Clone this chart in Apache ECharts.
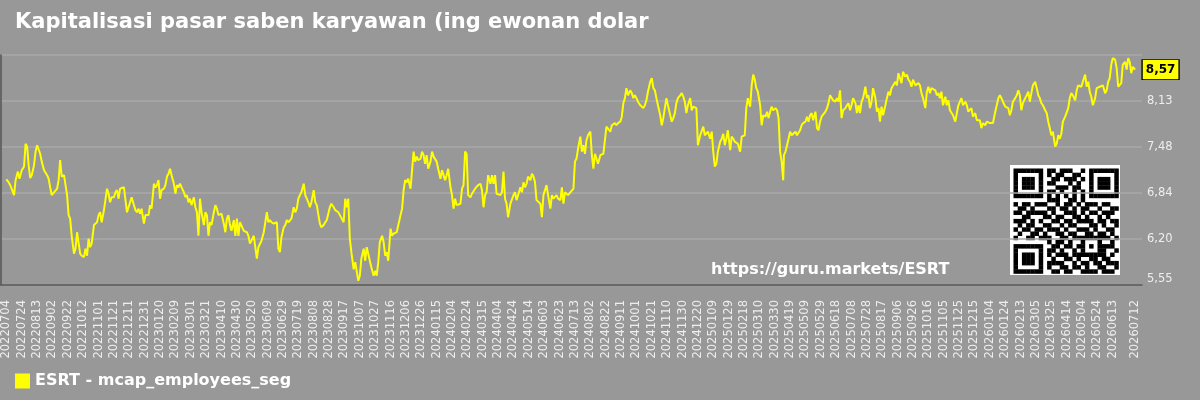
<!DOCTYPE html>
<html>
<head>
<meta charset="utf-8">
<title>ESRT - mcap_employees_seg</title>
<script src="https://cdn.jsdelivr.net/npm/echarts@6/dist/echarts.min.js"></script>
<style>
    html, body { margin: 0; padding: 0; background: #989898; }
    #main { width: 1200px; height: 400px; }
</style>
</head>
<body>
<div id="main"></div>
<script>
    // day offsets counted from 2022-07-04
    var startDate = Date.UTC(2022, 6, 4);
    var lastDay = 1469;
    var labelDays = [];
    for (var d = 0; d <= 1440; d += 20) labelDays.push(d);
    labelDays.push(lastDay);

    var yTickLabels = ['5,55', '6,20', '6,84', '7,48', '8,13'];
    var lastValue = 8.57;

    // [day, value]
    var seg2022 = [[0,7.03],[3,6.99],[5,6.95],[7,6.97],[10,6.81],[12,7.02],[15,7.14],[17,7.04],[20,7.16],[23,7.21],[25,7.53],[27,7.49],[29,7.23],[31,7.05],[33,7.09],[36,7.23],[38,7.42],[40,7.51],[42,7.49],[44,7.39],[46,7.28],[49,7.16],[51,7.18],[53,7.09],[55,7.04],[57,6.92],[59,6.81],[62,6.85],[64,6.85],[66,6.90],[68,7.02],[70,7.30],[72,7.07],[75,7.09],[77,7.07],[79,6.81],[81,6.53],[83,6.48],[85,6.24],[88,5.99],[90,6.06],[92,6.29],[94,6.31],[96,5.99],[98,5.96],[101,5.94],[103,6.06],[105,5.96],[107,6.20],[109,6.08],[111,6.13],[114,6.39],[116,6.41],[118,6.43],[120,6.53],[122,6.57],[124,6.43],[127,6.60],[129,6.62],[131,6.90],[133,6.83],[135,6.71],[137,6.78],[140,6.78],[142,6.85],[144,6.88],[146,6.76],[148,6.90],[150,6.90],[153,6.92],[155,6.90],[157,6.57],[159,6.64],[161,6.71],[163,6.78],[166,6.67],[168,6.60],[170,6.57],[172,6.62],[174,6.55],[176,6.62],[179,6.41],[181,6.53],[183,6.53],[185,6.53],[187,6.67],[189,6.62],[192,6.97],[194,6.92],[196,6.95],[198,7.02],[200,6.76],[202,6.88],[205,6.90],[207,6.95],[209,7.07],[211,7.11],[213,7.18],[215,7.09],[218,6.97],[220,6.83],[222,6.95],[224,6.92],[226,6.97],[228,6.92],[231,6.85],[233,6.78],[235,6.81],[237,6.71],[239,6.76],[241,6.67],[244,6.78],[246,6.64],[248,6.57],[250,6.24],[252,6.76],[254,6.57],[257,6.39],[259,6.57],[261,6.53],[263,6.24],[265,6.43],[267,6.39],[270,6.57],[272,6.67],[274,6.62],[276,6.53],[278,6.53],[280,6.55],[283,6.41],[285,6.29],[287,6.48],[289,6.53],[291,6.39],[293,6.31],[296,6.46],[298,6.24],[300,6.48],[302,6.24],[304,6.43],[306,6.41],[309,6.31],[311,6.29],[313,6.29],[315,6.24],[317,6.13],[319,6.15],[322,6.24],[324,6.22],[326,5.92],[328,6.08],[330,6.06],[332,6.17],[335,6.29],[337,6.29],[339,6.57],[341,6.43],[343,6.46],[345,6.43],[348,6.41],[350,6.43],[352,6.43],[354,6.06],[356,6.01],[358,6.22],[361,6.36],[363,6.39],[365,6.46],[367,6.43],[369,6.43],[371,6.48],[374,6.64],[376,6.57],[378,6.62],[380,6.76],[382,6.81],[384,6.85],[387,6.97],[389,6.81],[391,6.81],[393,6.71],[395,6.64],[397,6.71],[400,6.88],[402,6.71],[404,6.67],[406,6.67],[408,6.41],[410,6.36],[413,6.39],[415,6.43],[417,6.46],[419,6.46],[421,6.64],[423,6.69],[426,6.64],[428,6.60],[430,6.60],[432,6.57],[434,6.53],[436,6.55],[439,6.43],[441,6.76],[443,6.64],[445,6.76],[447,6.20],[449,6.01],[452,5.77],[454,5.87],[456,5.85],[458,5.61],[460,5.68],[462,5.92],[465,6.06],[467,5.89],[469,6.08],[471,6.10],[473,5.89],[475,5.80],[478,5.68],[480,5.75],[482,5.68],[484,5.87],[486,6.15]];
    var seg2024 = [[489,6.24],[491,6.15],[493,5.96],[495,6.01],[497,5.89],[500,6.34],[502,6.24],[504,6.27],[506,6.29],[508,6.29],[510,6.31],[513,6.53],[515,6.62],[517,6.88],[519,7.02],[521,6.99],[523,7.04],[526,6.90],[528,6.92],[530,7.42],[532,7.28],[534,7.35],[536,7.30],[539,7.32],[541,7.42],[543,7.37],[545,7.25],[547,7.37],[549,7.18],[552,7.28],[554,7.42],[556,7.35],[558,7.35],[560,7.28],[562,7.18],[565,7.04],[567,7.16],[569,7.14],[571,7.02],[573,7.09],[575,7.18],[578,6.92],[580,6.81],[582,6.62],[584,6.76],[586,6.67],[588,6.69],[591,6.69],[593,6.90],[595,6.95],[597,7.42],[599,7.39],[601,6.81],[604,6.78],[606,6.83],[608,6.85],[610,6.90],[612,6.90],[614,6.95],[617,6.97],[619,6.88],[621,6.64],[623,6.81],[625,6.85],[627,7.09],[630,6.97],[632,7.09],[634,6.97],[636,7.09],[638,6.83],[640,6.85],[643,6.81],[645,6.85],[647,7.14],[649,6.76],[651,6.69],[653,6.50],[656,6.69],[658,6.71],[660,6.81],[662,6.85],[664,6.74],[666,6.81],[669,6.92],[671,6.85],[673,6.99],[675,6.92],[677,6.97],[679,7.07],[682,7.02],[684,7.11],[686,7.07],[688,6.99],[690,6.74],[692,6.76],[695,6.69],[697,6.50],[699,6.81],[701,6.88],[703,6.95],[705,6.81],[708,6.62],[710,6.81],[712,6.76],[714,6.78],[716,6.81],[718,6.76],[721,6.74],[723,6.92],[725,6.69],[727,6.85],[729,6.85],[731,6.81],[734,6.85],[736,6.83],[738,6.90],[740,7.28],[742,7.32],[744,7.46],[747,7.63],[749,7.42],[751,7.51],[753,7.39],[755,7.58],[757,7.65],[760,7.70],[762,7.37],[764,7.18],[766,7.39],[768,7.37],[770,7.25],[773,7.37],[775,7.39],[777,7.39],[779,7.58],[781,7.77],[783,7.79],[786,7.70],[788,7.79],[790,7.77],[792,7.82],[794,7.79],[796,7.82],[799,7.84],[801,7.91],[803,8.10],[805,8.17],[807,8.31],[809,8.21],[812,8.28],[814,8.24],[816,8.17],[818,8.21],[820,8.17],[822,8.12],[825,8.07],[827,8.05],[829,8.03],[831,8.07],[833,8.14],[835,8.26],[838,8.40],[840,8.45],[842,8.31],[844,8.28],[846,8.17],[848,8.07],[851,7.93],[853,7.79],[855,7.89],[857,8.03],[859,8.17],[861,8.07],[864,7.93],[866,7.84],[868,7.89],[870,7.96],[872,8.10],[874,8.17],[877,8.21],[879,8.24],[881,8.19],[883,8.12],[885,7.96],[887,8.07],[890,8.17],[892,8.00],[894,8.05],[896,8.07],[898,8.03],[900,7.51],[903,7.65],[905,7.67],[907,7.77],[909,7.65],[911,7.67],[913,7.70],[916,7.60],[918,7.70],[920,7.42],[922,7.21],[924,7.25],[926,7.42],[929,7.56],[931,7.60],[933,7.67],[935,7.51],[937,7.60],[939,7.72],[942,7.44],[944,7.63],[946,7.60],[948,7.56],[950,7.58],[952,7.53],[955,7.42],[957,7.63],[959,7.63],[961,7.65],[963,8.03],[965,8.17],[968,8.05],[970,8.35],[972,8.50],[974,8.43],[976,8.31],[978,8.26],[981,8.07]];
    var seg2025 = [[983,7.79],[985,7.93],[988,7.91],[990,7.98],[992,7.89],[994,7.98],[996,8.05],[998,8.00],[1001,8.03],[1003,8.00],[1005,7.89],[1007,7.42],[1009,7.28],[1011,7.02],[1012,7.37],[1014,7.42],[1016,7.51],[1018,7.60],[1020,7.70],[1022,7.65],[1024,7.67],[1027,7.70],[1029,7.65],[1031,7.67],[1033,7.72],[1035,7.79],[1037,7.82],[1040,7.84],[1042,7.91],[1044,7.84],[1046,7.93],[1048,7.96],[1050,7.86],[1053,7.98],[1055,7.75],[1057,7.72],[1059,7.84],[1061,7.91],[1063,7.93],[1066,7.98],[1068,8.03],[1070,8.10],[1072,8.21],[1074,8.19],[1076,8.14],[1079,8.12],[1081,8.17],[1083,8.12],[1085,8.28],[1087,7.89],[1089,8.00],[1092,8.03],[1094,8.07],[1096,8.10],[1098,8.00],[1100,8.07],[1102,8.17],[1105,8.10],[1107,7.96],[1109,8.07],[1111,7.96],[1113,8.12],[1115,8.17],[1118,8.33],[1120,8.17],[1122,8.21],[1124,8.03],[1126,8.12],[1128,8.31],[1131,8.17],[1133,7.98],[1135,8.03],[1137,7.84],[1139,8.05],[1141,7.93],[1144,8.07],[1146,8.17],[1148,8.26],[1150,8.21],[1152,8.31],[1154,8.33],[1157,8.40],[1159,8.35],[1161,8.52],[1163,8.45],[1165,8.38],[1167,8.54],[1170,8.47],[1172,8.50],[1174,8.43],[1176,8.40],[1178,8.33],[1180,8.43],[1183,8.35],[1185,8.33],[1187,8.38],[1189,8.35],[1191,8.24],[1193,8.17],[1196,8.03],[1198,8.26],[1200,8.33],[1202,8.24],[1204,8.31],[1206,8.31],[1209,8.28],[1211,8.21],[1213,8.24],[1215,8.17],[1217,8.26],[1219,8.07],[1222,8.19],[1224,8.07],[1226,8.14],[1228,8.00],[1230,7.98],[1232,7.93],[1235,7.84],[1237,7.96],[1239,8.07],[1241,8.12],[1243,8.17],[1245,8.07],[1248,8.12],[1250,8.07],[1252,7.98],[1254,7.96],[1256,8.03],[1258,7.91],[1261,7.96],[1263,7.86],[1265,7.84],[1267,7.86],[1269,7.75],[1271,7.82],[1274,7.79],[1276,7.84],[1278,7.86],[1280,7.82],[1282,7.84],[1284,7.82],[1287,7.98],[1289,8.07],[1291,8.17],[1293,8.21],[1295,8.17],[1297,8.12],[1300,8.05],[1302,8.07],[1304,8.03],[1306,7.93],[1308,8.00],[1310,8.12],[1313,8.17],[1315,8.21],[1317,8.28],[1319,8.21],[1321,8.00],[1323,8.10],[1326,8.17],[1328,8.21],[1330,8.26],[1332,8.12],[1334,8.24],[1336,8.35],[1339,8.40],[1341,8.31],[1343,8.21],[1345,8.17],[1347,8.10],[1349,8.07],[1352,8.00],[1354,7.96],[1356,7.84],[1358,7.75],[1360,7.65],[1362,7.70],[1365,7.49],[1367,7.53],[1369,7.65],[1371,7.60],[1373,7.67],[1375,7.84],[1378,7.91],[1380,7.91],[1382,8.03],[1384,8.17],[1386,8.24],[1388,8.21],[1391,8.14],[1393,8.28],[1395,8.35],[1397,8.33],[1399,8.33],[1401,8.40],[1404,8.50],[1406,8.33],[1408,8.40],[1410,8.26],[1412,8.19],[1414,8.07],[1417,8.17],[1419,8.31],[1421,8.31],[1423,8.33],[1425,8.31],[1427,8.35],[1430,8.24],[1432,8.28],[1434,8.40],[1436,8.45],[1438,8.64],[1440,8.73],[1443,8.71],[1445,8.59],[1447,8.33],[1449,8.35],[1451,8.38],[1453,8.64],[1456,8.68],[1458,8.57],[1460,8.73],[1462,8.68],[1464,8.52],[1466,8.61],[1469,8.57]];

    var mcapPoints = seg2022.concat(seg2024, seg2025);

    function dayLabel(v) {
        var t = new Date(startDate + Math.round(v) * 86400000);
        var m = t.getUTCMonth() + 1, dd = t.getUTCDate();
        return '' + t.getUTCFullYear() + (m < 10 ? '0' : '') + m + (dd < 10 ? '0' : '') + dd;
    }

    // QR card (decoration only)
    var qrRows = [
        '0000000011011100100000000',
        '0000000010110011000000000',
        '0000000001101110100000000',
        '0000000011000101000000000',
        '0000000000111011000000000',
        '0000000011010010100000000',
        '0000000010101010100000000',
        '0000000011100110100000000',
        '1011011100101101011101100',
        '0110100011011010110010011',
        '1101111101001110101101110',
        '0011000110110011010010100',
        '1110101001101101111011011',
        '0101100110010110001101001',
        '1011011011101001110100110',
        '0100110100110110011011010',
        '1001101110011011100011101',
        '0000000010110100100010010',
        '0000000001101101101011110',
        '0000000011010010100011001',
        '0000000010111011111111010',
        '0000000001001101001101100',
        '0000000011110010110110111',
        '0000000010011011010011001',
        '0000000001101100111101110'
    ];
    var qrCell = 4.2;
    function qrDark(r, c) {
        var f = [[0, 0], [0, 18], [18, 0]];
        for (var i = 0; i < 3; i++) {
            var rr = r - f[i][0], cc = c - f[i][1];
            if (rr >= -1 && rr <= 7 && cc >= -1 && cc <= 7) {
                if (rr < 0 || rr > 6 || cc < 0 || cc > 6) return false;
                var edge = rr === 0 || rr === 6 || cc === 0 || cc === 6;
                var core = rr >= 2 && rr <= 4 && cc >= 2 && cc <= 4;
                return edge || core;
            }
        }
        if (r >= 16 && r <= 20 && c >= 16 && c <= 20) {
            return r === 16 || r === 20 || c === 16 || c === 20 || (r === 18 && c === 18);
        }
        return qrRows[r].charAt(c) === '1';
    }
    var qrChildren = [{type: 'rect', shape: {x: 0, y: 0, width: 110, height: 110}, style: {fill: '#fff'}}];
    for (var r = 0; r < 25; r++) {
        for (var c = 0; c < 25; c++) {
            if (qrDark(r, c)) {
                qrChildren.push({type: 'rect', shape: {x: 3.5 + c * qrCell, y: 3.5 + r * qrCell, width: qrCell + 0.3, height: qrCell + 0.3}, style: {fill: '#000'}});
            }
        }
    }

    var myChart = echarts.init(document.getElementById('main'));
    var option = {
        backgroundColor: '#989898',
        animation: false,
        textStyle: {fontFamily: 'DejaVu Sans'},
        title: {
            text: 'Kapitalisasi pasar saben karyawan (ing ewonan dolar',
            left: 15,
            top: 12,
            padding: 0,
            textStyle: {color: '#fff', fontSize: 21, fontWeight: 'bold', fontFamily: 'DejaVu Sans'}
        },
        legend: {
            left: 15,
            top: 373,
            padding: 0,
            icon: 'rect',
            itemWidth: 15,
            itemHeight: 15,
            itemGap: 5,
            textStyle: {color: '#fff', fontSize: 16, fontWeight: 'bold', fontFamily: 'DejaVu Sans'},
            data: ['ESRT - mcap_employees_seg']
        },
        grid: {left: 1, right: 58, top: 55, bottom: 115, containLabel: false},
        xAxis: {
            type: 'value',
            min: -7,
            max: 1478,
            axisLine: {show: true, lineStyle: {color: '#555', width: 1.5}},
            axisTick: {show: false},
            splitLine: {show: false},
            axisLabel: {
                customValues: labelDays,
                rotate: 90,
                margin: 15,
                color: '#eee',
                fontSize: 11.5,
                fontFamily: 'DejaVu Sans',
                formatter: dayLabel
            }
        },
        yAxis: [{
            type: 'value',
            position: 'right',
            min: 5.55,
            max: 8.775,
            interval: 0.645,
            axisLine: {show: false},
            axisTick: {show: false},
            splitLine: {lineStyle: {color: '#a9a9a9', width: 1.5}},
            axisLabel: {
                color: '#eee',
                fontSize: 11.5,
                margin: 5,
                showMaxLabel: false,
                verticalAlignMinLabel: 'bottom',
                formatter: function (v) {
                    return yTickLabels[Math.round((v - 5.55) / 0.645)] || '';
                }
            }
        }, {
            type: 'value',
            position: 'left',
            min: 5.55,
            max: 8.775,
            axisLine: {show: true, lineStyle: {color: '#555', width: 1.5}},
            axisTick: {show: false},
            axisLabel: {show: false},
            splitLine: {show: false}
        }],
        graphic: [{
            type: 'text',
            left: 711,
            top: 262,
            z: 100,
            style: {text: 'https://guru.markets/ESRT', fill: '#fff', font: 'bold 16px "DejaVu Sans"'}
        }, {
            type: 'group',
            left: 1010,
            top: 165,
            z: 100,
            children: qrChildren
        }],
        series: [{
            name: 'ESRT - mcap_employees_seg',
            type: 'line',
            data: mcapPoints,
            showSymbol: false,
            symbol: 'none',
            itemStyle: {color: '#ffff00'},
            lineStyle: {color: '#ffff00', width: 2},
            markPoint: {
                silent: true,
                symbol: 'rect',
                symbolSize: [37, 20],
                symbolOffset: [25.5, 0],
                itemStyle: {color: '#ffff00', borderColor: '#000', borderWidth: 1},
                label: {
                    show: true,
                    position: 'inside',
                    formatter: lastValue.toFixed(2).replace('.', ','),
                    color: '#000',
                    fontSize: 12,
                    fontWeight: 'bold',
                    fontFamily: 'DejaVu Sans'
                },
                data: [{coord: [lastDay, lastValue]}]
            }
        }]
    };
    myChart.setOption(option);
</script>
</body>
</html>
